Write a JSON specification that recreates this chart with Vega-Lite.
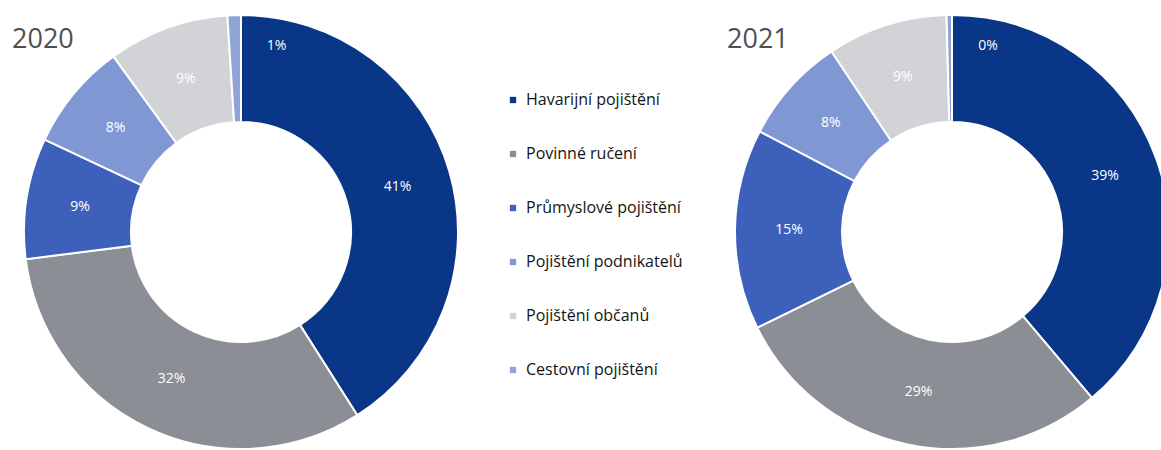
{
  "$schema": "https://vega.github.io/schema/vega-lite/v6.json",
  "padding": 0,
  "spacing": 261,
  "bounds": "flush",
  "background": "white",
  "config": {"view": {"stroke": null}, "font": "Open Sans"},
  "datasets": {
    "d": [
      {"year": "2020", "category": "Havarijní pojištění", "value": 0.41, "k": 1},
      {"year": "2020", "category": "Povinné ručení", "value": 0.32, "k": 2},
      {"year": "2020", "category": "Průmyslové pojištění", "value": 0.09, "k": 3},
      {"year": "2020", "category": "Pojištění podnikatelů", "value": 0.08, "k": 4},
      {"year": "2020", "category": "Pojištění občanů", "value": 0.09, "k": 5},
      {"year": "2020", "category": "Cestovní pojištění", "value": 0.01, "k": 6},
      {"year": "2021", "category": "Havarijní pojištění", "value": 0.39, "k": 1},
      {"year": "2021", "category": "Povinné ručení", "value": 0.29, "k": 2},
      {"year": "2021", "category": "Průmyslové pojištění", "value": 0.15, "k": 3},
      {"year": "2021", "category": "Pojištění podnikatelů", "value": 0.08, "k": 4},
      {"year": "2021", "category": "Pojištění občanů", "value": 0.09, "k": 5},
      {"year": "2021", "category": "Cestovní pojištění", "value": 0.004, "k": 6}
    ]
  },
  "hconcat": [
    {
      "width": 482,
      "height": 464,
      "data": {"name": "d"},
      "transform": [{"filter": "datum.year == '2020'"}],
      "title": {"text": "2020", "anchor": "start", "frame": "group", "fontSize": 27, "fontWeight": "normal", "color": "#4f4f4f", "offset": -54, "dx": 12},
      "encoding": {
        "theta": {"field": "value", "type": "quantitative", "stack": true},
        "order": {"field": "k", "type": "quantitative"},
        "color": {
          "field": "category", "type": "nominal",
          "scale": {
            "domain": ["Havarijní pojištění", "Povinné ručení", "Průmyslové pojištění", "Pojištění podnikatelů", "Pojištění občanů", "Cestovní pojištění"],
            "range": ["#0a3688", "#8b8e94", "#3d61bb", "#7f98d4", "#d2d3d6", "#8fa3d6"]
          },
          "legend": {"orient": "none", "legendX": 505, "legendY": 92, "title": null, "symbolType": "square", "symbolSize": 40, "labelFontSize": 16, "rowPadding": 38, "labelOffset": 5, "labelColor": "#141414", "symbolStrokeWidth": 0}
        }
      },
      "layer": [
        {"mark": {"type": "arc", "innerRadius": 110, "outerRadius": 217, "stroke": "white", "strokeWidth": 2}},
        {"transform": [{"filter": "datum.value >= 0.05"}],
         "mark": {"type": "text", "radius": 163, "fontSize": 14},
         "encoding": {"text": {"field": "value", "type": "quantitative", "format": ".0%"}, "color": {"value": "white"}}},
        {"transform": [{"filter": "datum.value < 0.05"}],
         "mark": {"type": "text", "radius": 186, "fontSize": 14, "align": "left", "dx": 20},
         "encoding": {"text": {"field": "value", "type": "quantitative", "format": ".0%"}, "color": {"value": "white"}}}
      ]
    },
    {
      "width": 418,
      "height": 464,
      "data": {"name": "d"},
      "transform": [{"filter": "datum.year == '2021'"}],
      "title": {"text": "2021", "anchor": "start", "frame": "group", "fontSize": 27, "fontWeight": "normal", "color": "#4f4f4f", "offset": -54, "dx": -16},
      "encoding": {
        "theta": {"field": "value", "type": "quantitative", "stack": true},
        "order": {"field": "k", "type": "quantitative"},
        "color": {"field": "category", "type": "nominal"}
      },
      "layer": [
        {"mark": {"type": "arc", "innerRadius": 110, "outerRadius": 217, "stroke": "white", "strokeWidth": 2}},
        {"transform": [{"filter": "datum.value >= 0.05"}],
         "mark": {"type": "text", "radius": 163, "fontSize": 14},
         "encoding": {"text": {"field": "value", "type": "quantitative", "format": ".0%"}, "color": {"value": "white"}}},
        {"transform": [{"filter": "datum.value < 0.05"}],
         "mark": {"type": "text", "radius": 186, "fontSize": 14, "align": "left", "dx": 24},
         "encoding": {"text": {"field": "value", "type": "quantitative", "format": ".0%"}, "color": {"value": "white"}}}
      ]
    }
  ],
  "resolve": {"scale": {"theta": "independent"}}
}
